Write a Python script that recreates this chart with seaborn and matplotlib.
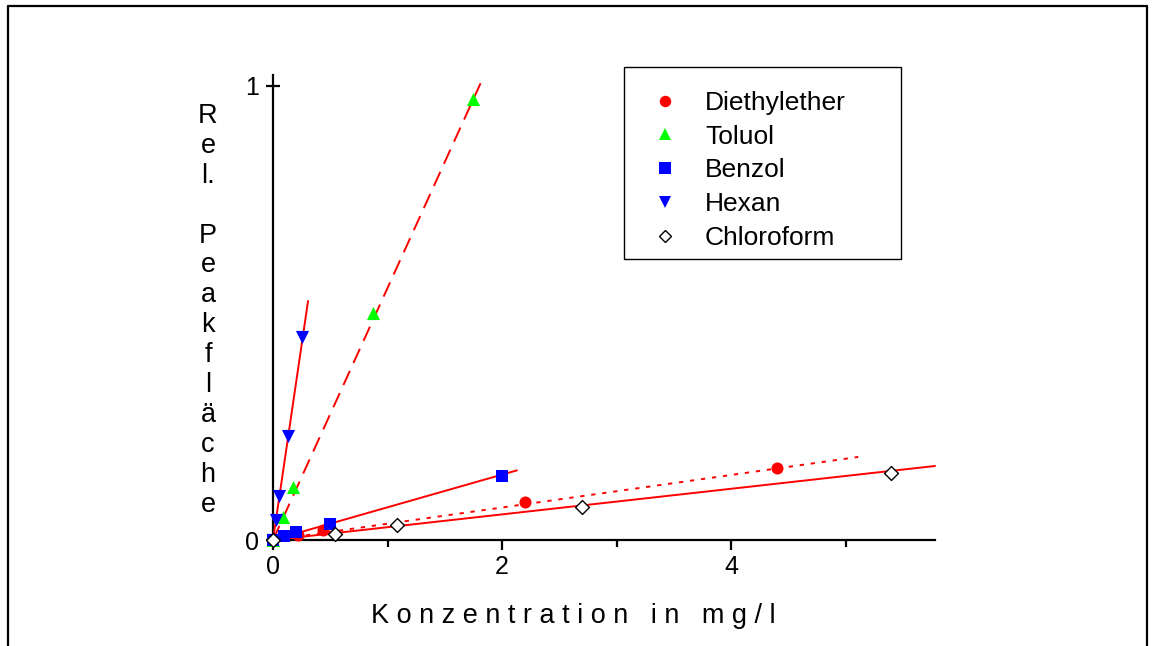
import numpy as np
import pandas as pd
import matplotlib
matplotlib.use("Agg")
import matplotlib.pyplot as plt
from matplotlib.lines import Line2D
from matplotlib.patches import Rectangle
import seaborn as sns

# ---------------- data ----------------
series_names = ["Diethylether", "Toluol", "Benzol", "Hexan", "Chloroform"]

diethyl_x = [0.0, 0.22, 0.44, 2.2, 4.4]
diethyl_y = [0.0, 0.010, 0.022, 0.084, 0.159]

toluol_x = [0.0, 0.09, 0.175, 0.875, 1.75]
toluol_y = [0.0, 0.051, 0.117, 0.500, 0.971]

benzol_x = [0.0, 0.1, 0.2, 0.5, 2.0]
benzol_y = [0.0, 0.008, 0.017, 0.035, 0.141]

hexan_x = [0.0, 0.026, 0.052, 0.131, 0.253]
hexan_y = [0.0, 0.044, 0.097, 0.229, 0.447]

chloro_x = [0.0, 0.54, 1.08, 2.7, 5.4]
chloro_y = [0.0, 0.013, 0.034, 0.073, 0.148]

# calibration lines through the origin: slope and end of the drawn line
fit_slope = [0.0358, 0.555, 0.072, 1.72, 0.0282]
fit_x_end = [5.11, 1.834, 2.13, 0.306, 5.78]

x_ticks = [0, 2, 4]
x_minor = [1, 3, 5]
y_ticks = [0, 1]
x_label = "Konzentration in mg/l"
y_label = "Rel. Peakfläche"

# ---------------- style ----------------
sns.set_style("white")
plt.rcParams["font.family"] = ["Liberation Sans", "DejaVu Sans"]
plt.rcParams["text.color"] = "black"
plt.rcParams["xtick.color"] = "black"
plt.rcParams["ytick.color"] = "black"
plt.rcParams["xtick.labelcolor"] = "black"
plt.rcParams["ytick.labelcolor"] = "black"
plt.rcParams["xtick.labelsize"] = 18
plt.rcParams["ytick.labelsize"] = 18

W, H = 1154, 646
fig = plt.figure(figsize=(W / 100, H / 100), dpi=100)
ax = fig.add_axes([273 / W, (H - 540) / H, (935 - 273) / W, (540 - 75) / H])

colors = ["#ff0000", "#00ff00", "#0000ff", "#0000ff", "white"]
markers = ["o", "^", "s", "v", "D"]
sizes = [75, 90, 85, 90, 50]
linestyles = [(0, (2.2, 3.5)), (0, (8, 4.5)), "-", "-", "-"]

xs = [diethyl_x, toluol_x, benzol_x, hexan_x, chloro_x]
ys = [diethyl_y, toluol_y, benzol_y, hexan_y, chloro_y]

# fit lines
for i in range(5):
    lx = [0.0, fit_x_end[i]]
    ly = [0.0, fit_slope[i] * fit_x_end[i]]
    sns.lineplot(x=lx, y=ly, ax=ax, color="#ff0000", linewidth=1.4,
                 linestyle=linestyles[i], legend=False, zorder=3)
for ln in ax.lines:
    ln.set_clip_on(False)

handles = []
for i in range(5):
    df = pd.DataFrame({"x": xs[i], "y": ys[i]})
    if i == 4:
        sns.scatterplot(data=df, x="x", y="y", ax=ax, marker=markers[i], s=sizes[i],
                        facecolor="white", edgecolor="black", linewidth=1.0,
                        zorder=5, clip_on=False)
        h = Line2D([], [], linestyle="none", marker="D", markersize=6.5,
                   markerfacecolor="white", markeredgecolor="black", markeredgewidth=1.0)
    else:
        sns.scatterplot(data=df, x="x", y="y", ax=ax, marker=markers[i], s=sizes[i],
                        color=colors[i], linewidth=0, zorder=4, clip_on=False)
        h = Line2D([], [], linestyle="none", marker=markers[i],
                   markersize=np.sqrt(sizes[i]) * 0.95,
                   markerfacecolor=colors[i], markeredgewidth=0)
    handles.append(h)

ax.set_xlim(0, 5.78)
ax.set_ylim(0, 1.024)
ax.set_xticks(x_ticks)
ax.set_xticks(x_minor, minor=True)
ax.set_yticks(y_ticks)
ax.set_xticklabels([str(t) for t in x_ticks], fontsize=18)
ax.set_yticklabels([str(t) for t in y_ticks], fontsize=18)
ax.set_xlabel("")
ax.set_ylabel("")

for s in ["top", "right"]:
    ax.spines[s].set_visible(False)
for s in ["left", "bottom"]:
    ax.spines[s].set_color("black")
    ax.spines[s].set_linewidth(1.6)

ax.tick_params(axis="x", which="major", direction="out", length=7, width=1.6,
               pad=4, colors="black", bottom=True)
ax.tick_params(axis="x", which="minor", direction="out", length=5, width=1.6,
               colors="black", bottom=True)
ax.tick_params(axis="y", which="major", direction="inout", length=10, width=1.6,
               pad=5, colors="black", left=True)

# axis titles with spaced letters
fig.text(573 / W, 1 - 623 / H, " ".join(list(x_label)), ha="center", va="baseline",
         fontsize=19.5, color="black")
letters = ["R", "e", "l.", "", "P", "e", "a", "k", "f", "l", "ä", "c", "h", "e"]
for i, ch in enumerate(letters):
    if ch:
        fig.text(208 / W, 1 - (123 + 29.9 * i) / H, ch, ha="center", va="baseline",
                 fontsize=19.5, color="black")

# legend: entries without their own frame, plus a plain rectangular box
box = Rectangle((624 / W, 1 - 259 / H), 277 / W, 192 / H,
                transform=fig.transFigure, fill=True, facecolor="white",
                edgecolor="black", linewidth=1.0, zorder=9, clip_on=False)
ax.add_patch(box)
leg = ax.legend(handles, series_names, loc="upper left",
                bbox_to_anchor=(624 / W, 1 - 67 / H),
                bbox_transform=fig.transFigure,
                fontsize=19, frameon=False,
                borderpad=0.9, handlelength=1.31, handletextpad=0.86,
                labelspacing=0.37, borderaxespad=0)
for t in leg.get_texts():
    t.set_color("black")
leg.set_zorder(10)

# outer frame around the figure
lw = 1.6
fig.add_artist(Line2D([8 / W, 8 / W], [0, 1 - 6 / H], transform=fig.transFigure,
                      color="black", linewidth=lw))
fig.add_artist(Line2D([8 / W, 1147 / W], [1 - 6 / H, 1 - 6 / H], transform=fig.transFigure,
                      color="black", linewidth=lw))
fig.add_artist(Line2D([1147 / W, 1147 / W], [0, 1 - 6 / H], transform=fig.transFigure,
                      color="black", linewidth=lw))

fig.savefig("out.png", dpi=100)
